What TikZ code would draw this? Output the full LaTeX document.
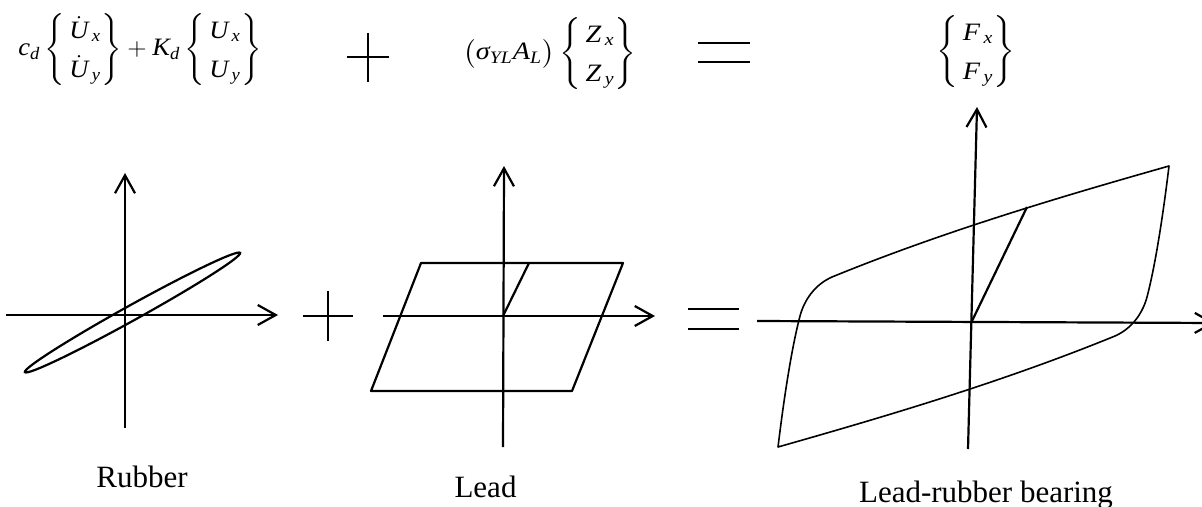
\documentclass[tikz,border=0pt]{standalone}
\usepackage{amsmath}
\usepackage{graphicx}
\usepackage{fontspec}
\setmainfont{Liberation Serif}
\usetikzlibrary{arrows.meta}
\newcommand{\mi}[1]{\textit{#1}}
\newcommand{\vecb}[2]{\left\{\renewcommand{\arraystretch}{1.3}\begin{array}{@{\,}l@{}}#1\\#2\end{array}\right\}}
\newcommand{\wide}[1]{\scalebox{1.13}[1]{#1}}
\newcommand{\wideA}[1]{\scalebox{1.06}[1]{#1}}
\begin{document}
\begin{tikzpicture}[x=0.5pt,y=-0.5pt,
  ax/.style={line width=1.1pt,-{Straight Barb[length=9pt,width=10pt,line width=1.1pt]}},
  ln/.style={line width=1.1pt},
  thinln/.style={line width=0.8pt,line join=round},
  eqn/.style={inner sep=0pt,font=\fontsize{12.5}{15}\selectfont},
  lbl/.style={inner sep=0pt,anchor=base,font=\fontsize{15.5}{18}\selectfont}]
\useasboundingbox (0,0) rectangle (1202,507);
% ---------- top formula ----------
\node[eqn,anchor=west] (eqA) at (18,50) {\wideA{$\mi{c}_{\mi{d}}\vecb{\dot{\mi{U}}_{\,\mi{x}}}{\dot{\mi{U}}_{\,\mi{y}}}+\mi{K}_{\mi{d}}\vecb{\mi{U}_{\,\mi{x}}}{\mi{U}_{\,\mi{y}}}$}};
\draw[ln] (347,57) -- (389,57);
\draw[ln] (368,33) -- (368,82);
\node[eqn,anchor=west] (eqB) at (463,54) {\wide{$\bigl(\mi{σ}_{\mi{YL}}\mi{A}_{\mi{L}}\bigr)\vecb{\mi{Z}_{\,\mi{x}}}{\mi{Z}_{\,\mi{y}}}$}};
\draw[ln] (698,43) -- (750,43);
\draw[ln] (698,62) -- (750,62);
\node[eqn] (eqC) at (976,52) {\wide{$\vecb{\mi{F}_{\,\mi{x}}}{\mi{F}_{\,\mi{y}}}$}};
% ---------- rubber ----------
\coordinate (rB) at (125,428); \coordinate (rT) at (125,173);
\coordinate (rL) at (6,315);   \coordinate (rR) at (278,315);
\draw[ax] (rB) -- (rT);
\draw[ax] (rL) -- (rR);
\draw[ln,rotate around={29:(132.5,312.5)}] (132.5,312.5) ellipse [x radius=123, y radius=7.5];
\node[lbl] (rubber) at (142,487) {Rubber};
% plus
\draw[ln] (303,316) -- (353,316);
\draw[ln] (328,291) -- (328,341);
% ---------- lead ----------
\coordinate (lB) at (503,447); \coordinate (lT) at (504,166);
\coordinate (lL) at (383,316); \coordinate (lR) at (655,316);
\draw[ax] (lB) -- (lT);
\draw[ax] (lL) -- (lR);
\draw[ln,line join=round] (421,263) -- (623,263) -- (572,391) -- (371,391) -- cycle;
\draw[ln] (503,316) -- (529,263);
\node[lbl] (lead) at (485.5,497) {Lead};
% equals
\draw[ln] (688,309) -- (739,309);
\draw[ln] (688,329) -- (739,329);
% ---------- lead-rubber bearing ----------
\coordinate (bB) at (968,449); \coordinate (bT) at (977,107);
\coordinate (bL) at (757,321); \coordinate (bR) at (1215,323);
\draw[ax] (bB) -- (bT);
\draw[ax] (bL) -- (bR);
\draw[thinln] (1169,166) .. controls (1067,195) and (947,230) .. (832,277)
  .. controls (814,285) and (804,301) .. (800,316)
  .. controls (795,335) and (787,373) .. (778,447)
  .. controls (880,418) and (1000,383) .. (1115,336)
  .. controls (1133,328) and (1143,312) .. (1147,297)
  .. controls (1152,278) and (1160,240) .. (1169,166) -- cycle;
\draw[ln] (972,321) -- (1027,207);
\node[lbl] (lrb) at (986,502) {Lead-rubber bearing};
\end{tikzpicture}
\end{document}
